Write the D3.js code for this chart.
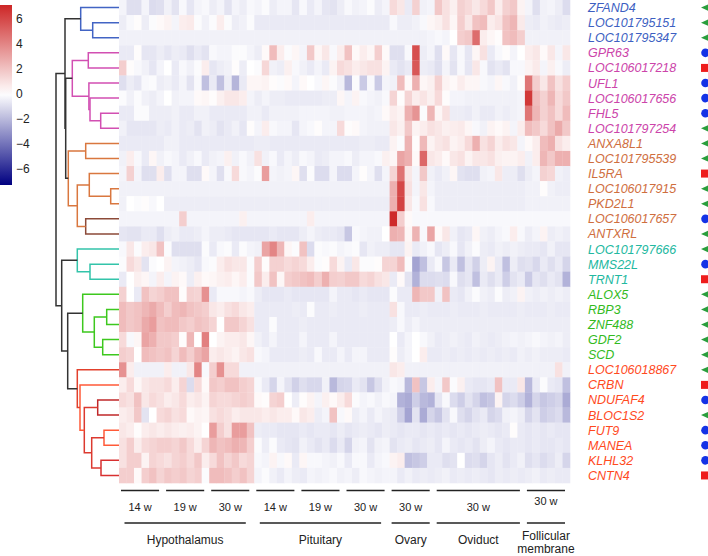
<!DOCTYPE html>
<html><head><meta charset="utf-8">
<script src="https://cdn.jsdelivr.net/npm/d3@7"></script>
<style>body{margin:0;background:#fff}svg{display:block}text{font-family:"Liberation Sans",Arial,sans-serif}</style>
</head><body><svg id="c" width="708" height="556"></svg>
<script>
// ---------------- data ----------------
const genes = ["ZFAND4","LOC101795151","LOC101795347","GPR63","LOC106017218","UFL1","LOC106017656","FHL5","LOC101797254","ANXA8L1","LOC101795539","IL5RA","LOC106017915","PKD2L1","LOC106017657","ANTXRL","LOC101797666","MMS22L","TRNT1","ALOX5","RBP3","ZNF488","GDF2","SCD","LOC106018867","CRBN","NDUFAF4","BLOC1S2","FUT9","MANEA","KLHL32","CNTN4"];
const geneCluster = ["blue","blue","blue","magenta","magenta","magenta","magenta","magenta","magenta","orange","orange","orange","orange","orange","orange","orange","teal","teal","teal","green","green","green","green","green","red","red","red","red","red","red","red","red"];
const geneMarker = ["tri","tri","tri","circle","square","circle","circle","circle","tri","tri","tri","square","tri","tri","circle","tri","tri","circle","square","tri","tri","tri","tri","tri","tri","square","circle","tri","circle","circle","circle","square"];
const groupLabels = ["14 w","19 w","30 w","14 w","19 w","30 w","30 w","30 w","30 w"];
const groupSizes = [6,6,6,6,6,6,6,12,6];
const tissues = ["Hypothalamus","Pituitary","Ovary","Oviduct","Follicular membrane"];
const tissueGroups = [3,3,1,1,1];
const legendTicks = [6,4,2,0,-2,-4,-6];
// heat values, one row per gene (60 samples)
const heat = [
[-0.3,-0.9,-0.9,-0.3,-1.0,-0.9,-0.4,-0.8,-0.2,-0.7,-0.3,-0.2,-0.5,-0.3,-0.8,-0.3,-0.5,-0.2,-0.3,-0.1,-0.5,-0.3,-0.3,-0.7,-0.2,-0.6,-0.3,-0.7,-0.8,-0.5,-0.2,-0.4,-0.3,-0.1,-0.5,-0.3,1.2,0.8,-0.6,1.5,-0.4,-0.3,1.8,1.0,0.5,1.5,1.2,0.8,1.2,1.8,0.6,1.5,1.8,0.4,-0.3,-0.9,-0.4,-0.3,-0.5,-1.0],
[-0.5,-0.2,0.1,-0.5,-0.1,0.2,0.4,-0.3,0.6,0.7,-0.1,-0.4,-0.1,0.6,-0.1,-0.5,-0.4,-0.1,-0.6,-0.6,-0.6,-0.6,-0.6,-0.6,-0.6,-0.6,-0.6,-0.6,-0.6,-0.6,-0.6,-0.6,-0.6,-0.6,-0.6,-0.6,-0.2,-0.5,-0.5,-0.4,-0.2,0.3,0.5,1.0,0.3,1.6,0.8,2.0,2.2,0.6,0.9,2.0,2.4,0.7,-0.5,-0.6,-0.4,-0.5,-0.6,-0.5],
[-0.4,-0.4,-0.4,-0.4,-0.4,-0.4,-0.4,-0.4,-0.4,-0.4,-0.4,-0.4,-0.4,-0.4,-0.4,-0.4,-0.4,-0.4,-0.4,-0.4,-0.4,-0.4,-0.4,-0.4,-0.4,-0.4,-0.4,-0.4,-0.4,-0.4,-0.4,-0.4,-0.4,-0.4,-0.4,-0.4,-0.4,-0.4,-0.4,-0.4,-0.4,-0.3,-0.2,-0.3,0.0,1.6,1.8,4.8,0.6,0.3,0.1,2.0,2.2,1.6,-0.4,-0.4,-0.4,-0.4,-0.4,-0.4],
[-0.6,-0.6,0.1,-0.7,-0.7,-0.5,-0.7,-0.5,-0.6,-0.9,-0.6,-0.8,-0.2,-0.3,-0.3,-0.1,-0.1,-0.3,-0.5,0.2,2.2,0.6,-0.1,0.3,-0.3,1.8,0.3,0.8,-0.2,0.6,2.0,0.2,0.6,0.3,1.6,0.2,-0.9,-0.9,-0.2,5.8,-0.5,-0.3,-0.9,0.2,-0.7,-0.2,-0.7,0.3,1.0,-0.6,-0.2,0.1,-0.3,0.0,0.6,0.8,0.2,0.8,-0.3,0.8],
[1.6,0.1,-0.2,-0.4,-0.7,-0.3,0.0,-0.6,-0.2,-0.4,-0.1,0.6,-0.7,-0.5,-0.4,0.1,-0.5,0.0,-0.1,1.3,-0.4,-0.5,0.5,-0.2,-0.4,-0.6,-0.3,-0.6,0.4,1.2,1.0,0.6,0.8,1.0,1.0,0.4,-0.6,-0.8,-0.6,5.5,-0.5,-0.6,-0.9,-0.3,-0.8,-0.2,-0.7,0.8,-0.2,-0.8,-0.6,-0.8,-0.2,-0.2,0.4,0.7,-0.3,0.5,-0.2,-0.5],
[-0.9,-0.5,-0.7,-0.2,-0.1,-0.5,-0.4,-0.6,-0.3,-0.8,-0.2,-1.8,-0.6,-1.8,-0.5,-2.1,-0.6,0.3,0.3,0.4,0.1,-0.1,0.2,-0.3,0.2,0.0,-0.2,0.3,-0.1,-0.4,-2.0,-0.1,-1.5,-0.2,-1.5,-0.3,-0.4,2.2,0.2,2.6,0.3,0.5,1.5,0.4,0.2,0.6,0.3,0.3,-0.2,-0.3,0.3,-0.2,-0.4,0.1,4.5,1.6,0.8,2.0,1.0,1.6],
[-0.1,-0.4,-0.1,-0.4,-0.5,-0.3,0.0,-0.4,-0.3,-0.3,0.2,0.3,0.1,0.5,0.8,0.8,0.6,-0.3,-0.5,-0.3,-0.5,-0.5,-0.6,-0.6,-0.6,-0.6,-0.6,-0.5,-0.5,0.3,-0.3,0.4,-0.2,-0.3,-0.4,-0.2,1.4,0.1,1.4,0.6,0.9,0.5,1.2,0.1,-0.3,-0.3,-0.4,-0.4,-0.4,-0.4,-0.4,-0.4,-0.4,-0.3,6.5,2.2,1.5,2.4,1.2,1.8],
[-0.6,-0.6,-0.1,-0.1,-0.5,-0.5,-0.5,-0.4,-0.6,-0.6,-0.4,-0.4,-0.6,-0.6,-0.6,-0.6,-0.6,-0.4,-0.4,-0.6,-0.4,-0.4,-0.4,-0.4,-0.3,-0.3,-0.3,-0.3,-0.4,-0.4,-0.3,-0.3,-0.3,-0.4,-0.3,0.2,0.6,0.4,2.6,3.5,-0.1,2.4,0.3,1.0,-0.5,-0.5,-0.6,-0.4,-0.6,-0.6,-0.4,-0.5,-0.4,-0.3,4.5,2.4,1.5,2.0,1.2,2.2],
[-0.4,-0.7,-0.7,-0.7,-0.7,-0.5,-0.6,-0.4,-0.6,-0.5,-0.8,-0.4,-0.5,-0.8,-0.6,-0.4,-0.7,0.1,-0.3,0.6,-0.2,-0.3,-0.3,-0.7,-0.3,-0.2,0.1,-0.3,-0.3,1.2,0.1,0.2,-0.3,-0.4,-0.4,-0.4,0.8,0.5,1.8,0.4,0.6,1.0,0.8,0.5,0.6,0.7,0.3,-0.2,-0.4,0.4,0.2,0.4,-0.3,0.6,2.2,1.8,1.2,2.0,2.8,1.8],
[-0.6,-0.6,-0.6,-0.6,-0.6,-0.6,-0.4,-0.4,-0.6,-0.6,-0.6,-0.6,-0.6,-0.6,-0.6,-0.6,-0.6,-0.6,-0.5,-0.5,-0.6,-0.6,-0.6,-0.6,-0.6,-0.6,-0.6,-0.6,-0.6,-0.6,-0.6,-0.6,-0.5,-0.5,-0.6,-0.6,0.4,-0.1,2.5,0.1,2.3,0.4,0.8,1.0,0.4,0.6,1.2,2.6,1.0,1.4,0.6,1.0,0.8,-0.3,0.2,0.6,2.2,2.6,1.0,0.6],
[-0.4,0.6,-0.2,-0.6,0.3,-0.4,-0.2,-0.3,-0.6,-0.4,-0.2,-0.6,-0.4,-0.3,0.5,-0.4,-0.2,-0.4,1.0,-0.4,-0.2,-0.6,-0.3,-0.5,-0.2,-0.3,-0.6,-0.5,-0.3,-0.3,-0.2,-0.5,-0.3,-0.3,-0.2,0.5,0.3,3.0,2.6,0.2,5.0,0.8,0.6,0.2,0.8,1.0,0.4,0.8,0.8,1.0,0.5,0.4,0.4,0.6,-0.4,0.6,2.4,1.8,2.6,2.6],
[-0.3,1.5,-0.3,-0.9,-0.9,0.6,-0.9,-0.3,-0.3,-0.9,-0.9,0.2,-0.3,-0.9,-0.2,1.2,-0.2,-0.3,-0.1,3.2,-0.3,-0.4,-0.3,0.3,-0.9,-0.1,-1.0,-1.0,-0.3,-1.0,-1.0,-0.3,0.1,-0.3,-0.9,-0.3,1.4,4.6,0.8,-0.3,1.8,-0.4,-0.6,-0.4,0.3,-0.8,-0.9,-0.9,-0.4,-0.3,0.8,-0.5,-0.5,-0.9,-0.5,-0.3,1.5,1.3,-0.4,-0.5],
[-0.4,-0.4,-0.4,-0.4,-0.4,-0.4,-0.4,-0.4,-0.4,-0.4,-0.4,-0.4,-0.4,-0.4,-0.4,-0.4,-0.4,-0.4,-0.4,-0.4,-0.4,-0.4,-0.4,-0.4,-0.4,-0.4,-0.4,-0.4,-0.4,-0.4,-0.4,-0.4,-0.4,-0.4,-0.4,-0.4,2.6,6.0,1.0,-0.3,0.8,-0.3,-0.5,-0.5,-0.5,-0.5,-0.5,-0.5,-0.5,-0.5,-0.5,-0.5,-0.5,-0.5,-0.4,-0.4,0.1,-0.4,-0.5,-0.5],
[-0.4,0.0,-0.1,0.1,-0.2,0.0,-0.5,-0.5,-0.5,-0.5,-0.5,-0.5,-0.5,-0.5,-0.5,-0.5,-0.5,-0.5,-0.5,-0.5,-0.5,-0.5,-0.5,-0.5,-0.5,-0.5,-0.5,-0.5,-0.5,-0.5,-0.5,-0.5,-0.5,-0.5,-0.5,-0.5,2.6,6.2,0.8,-0.2,1.0,-0.2,-0.5,-0.5,-0.5,-0.5,-0.5,-0.5,-0.5,-0.5,-0.5,-0.5,-0.5,-0.5,-0.4,-0.4,-0.4,-0.4,-0.4,-0.4],
[-0.3,-0.3,-0.3,-0.3,-0.3,-0.3,-0.3,-0.3,1.6,-0.3,-0.3,-0.3,-0.3,-0.3,-0.3,-0.3,0.5,-0.3,-0.3,-0.3,-0.3,-0.3,-0.3,-0.3,-0.3,0.6,-0.3,-0.3,-0.3,-0.3,-0.3,-0.3,-0.3,-0.3,-0.3,-0.3,7.0,1.6,0.2,-0.2,-0.2,-0.2,-0.2,-0.2,-0.2,-0.2,-0.2,-0.2,-0.2,-0.2,-0.2,-0.2,-0.2,-0.2,-0.2,-0.2,-0.2,-0.2,-0.2,-0.2],
[-0.7,-0.8,-0.8,-0.6,-0.6,-0.9,-0.5,-0.4,-0.6,-0.6,-0.5,-0.3,-0.5,-0.5,-0.6,-0.7,-0.7,-0.7,-0.7,-0.7,-0.6,-0.7,-0.7,-0.7,-0.5,-0.3,-0.5,-0.6,-0.6,-0.7,-1.6,-0.2,-0.3,-0.4,-0.4,0.0,2.6,2.4,0.3,2.5,-0.2,3.0,0.2,0.8,-0.4,-0.7,-0.6,0.3,-0.4,-0.5,-0.3,-0.2,0.6,-0.2,-0.5,-0.3,0.4,-0.5,-0.4,-0.5],
[-0.2,0.8,-0.1,0.6,0.8,2.0,-0.1,-0.9,-0.9,-0.9,-0.9,-0.1,-0.6,-0.2,-0.1,-0.6,-0.1,-0.3,-0.4,3.0,4.0,2.4,0.3,-0.1,2.0,-1.0,-0.1,-0.2,-0.1,-0.3,-0.2,-0.1,-0.7,-0.4,-0.5,-0.5,-0.7,-0.7,0.4,-0.6,-0.4,-0.2,-0.7,-0.5,-0.2,-0.7,-0.4,-0.1,-0.5,-0.6,-0.4,-0.5,-0.4,-0.5,-0.6,-0.6,-0.7,-0.4,-0.7,-0.7],
[-0.1,1.2,0.8,-0.8,-0.1,0.0,0.4,-0.3,-0.4,-0.5,-0.7,-0.2,-0.1,0.6,1.0,0.8,0.8,-0.1,1.6,0.1,1.5,1.5,1.2,1.4,1.2,0.6,-0.1,0.1,1.2,0.4,-0.6,0.8,-0.1,-0.1,0.1,1.4,1.4,2.2,-0.1,-2.6,-1.8,-0.6,-0.2,-1.6,-0.6,-1.8,-0.7,-1.3,-0.5,0.4,-0.6,-1.8,-0.5,-0.9,-0.8,-1.1,-0.6,-0.9,-0.6,-1.2],
[-0.6,0.0,0.5,0.3,-0.3,0.6,-0.3,0.4,0.2,-0.5,0.5,0.2,0.3,0.5,0.6,0.3,0.6,-0.1,1.8,0.6,2.0,0.3,1.6,1.8,2.0,2.2,1.6,2.6,1.6,1.5,1.8,1.8,1.2,1.4,1.0,0.8,-0.6,0.2,-0.8,-2.2,-1.0,-1.0,-0.9,-1.0,-0.2,-0.9,-0.7,-1.8,-0.6,-0.9,-0.6,-1.4,-0.8,-0.6,-1.5,-0.7,-0.9,-0.6,-0.8,-2.2],
[1.5,0.0,-0.6,2.0,1.4,1.6,2.0,2.0,0.1,1.5,1.4,3.6,-0.6,-0.2,-0.2,-0.2,-0.3,-0.2,-0.5,-0.7,-0.7,-0.7,-0.6,-0.7,-0.7,-0.7,-0.7,-0.7,-0.3,-0.6,-0.6,-0.7,-0.6,-0.7,-0.7,-0.7,-0.1,-0.6,-0.6,2.4,1.8,1.8,-0.4,2.0,-0.6,-0.7,-0.4,-0.1,-0.4,-0.5,-0.1,-0.5,-0.4,0.4,-0.4,-0.5,-0.4,-0.5,-0.4,-0.5],
[2.2,1.8,2.0,2.4,2.8,2.2,1.6,2.2,2.4,2.0,1.8,1.6,0.8,0.6,1.0,1.2,0.8,0.6,-0.6,-0.6,-0.6,-0.6,-0.6,-0.5,-0.6,-0.1,-0.6,-0.6,-0.5,-0.6,-0.6,-0.6,-0.5,-0.6,-0.6,-0.6,1.0,-0.2,-0.6,-0.6,-0.5,-0.6,-0.6,-0.6,-0.5,-0.6,-0.6,-0.6,-0.5,-0.6,-0.6,-0.6,-0.6,-0.5,-0.6,-0.6,-0.6,-0.5,-0.6,-0.6],
[2.2,1.8,2.0,2.8,3.2,2.0,2.2,2.2,1.8,1.6,2.0,1.8,1.4,0.0,1.8,1.8,1.4,1.0,-0.6,-0.6,-0.1,-0.6,-0.6,-0.6,-0.5,-0.6,-0.6,-0.6,-0.6,-0.6,-0.6,-0.6,-0.6,-0.6,-0.6,-0.6,-0.5,-0.2,-0.5,-0.3,-0.5,-0.5,-0.5,-0.5,-0.5,-0.5,-0.5,-0.5,-0.5,-0.5,-0.5,-0.5,-0.5,-0.5,-0.5,-0.5,-0.5,-0.5,-0.5,-0.5],
[1.2,-0.2,0.3,3.0,2.6,1.8,1.8,1.6,0.1,2.4,0.0,4.2,0.0,0.4,0.6,0.6,0.8,0.3,-0.4,-0.6,-0.3,-0.6,-0.6,-0.6,-0.3,-0.6,-0.6,-0.6,-0.3,-0.6,-0.6,-0.6,-0.6,-0.6,-0.6,-0.6,0.0,-0.6,-0.3,0.0,-0.2,-0.4,-0.6,-0.5,-0.4,-0.5,-0.6,-0.4,-0.5,-0.6,-0.5,-0.4,-0.3,-0.4,-0.3,-0.2,-0.3,-0.4,-0.3,-0.5],
[1.6,1.4,0.0,2.2,2.0,1.8,2.0,1.4,2.2,1.6,2.4,3.0,0.6,0.8,0.6,0.4,0.8,1.0,-0.2,-0.3,-0.6,-0.6,-0.6,-0.6,-0.5,-0.6,-0.2,-0.6,-0.6,-0.3,-0.6,-0.3,-0.3,-0.6,-0.6,-0.6,0.1,-0.5,-0.3,0.0,0.6,-0.6,-0.6,-0.5,-0.6,-0.5,-0.6,-0.5,-0.6,-0.5,-0.6,-0.5,-0.6,-0.4,-0.5,-0.4,-0.5,-0.5,-0.5,-0.6],
[3.6,0.6,-0.4,-0.4,-0.4,-0.4,0.6,-0.4,-0.4,0.8,4.0,-0.2,1.6,3.6,1.2,1.2,-0.4,-0.4,-0.4,-0.4,-0.4,-0.4,-0.4,-0.4,-0.4,-0.4,-0.4,-0.4,-0.4,-0.4,-0.4,-0.4,-0.4,-0.4,-0.4,-0.4,0.8,0.6,-0.4,-0.4,-0.4,-0.4,-0.4,-0.4,-0.4,-0.4,-0.4,-0.4,-0.4,-0.4,-0.4,-0.4,-0.4,-0.4,-0.4,-0.4,-0.4,-0.4,1.0,-0.4],
[0.6,1.2,0.3,0.8,1.0,1.0,1.2,0.6,1.4,-1.0,1.2,0.2,1.8,1.6,2.0,2.0,1.6,1.4,-0.2,-0.6,-1.2,-0.3,-0.8,-1.3,-0.9,-1.1,-1.1,-0.4,-2.0,-1.2,-1.1,-0.6,-0.8,-1.6,-0.9,-0.4,-0.2,-0.3,-2.0,2.0,-1.6,0.6,-0.3,1.8,-0.1,0.5,-0.6,-0.7,-0.7,-0.6,2.0,-0.6,-0.6,0.8,-2.0,-0.6,-0.1,-0.6,-0.7,-1.8],
[1.2,1.0,2.0,0.8,1.2,1.0,0.6,0.8,1.2,0.6,0.8,0.4,1.4,1.2,1.2,1.4,1.6,1.4,0.2,0.1,1.4,1.6,0.0,-0.5,0.1,0.4,-0.3,0.5,0.2,0.6,1.2,-0.1,-0.3,-0.2,-0.4,-0.2,-0.3,-2.2,-2.4,-1.4,-2.0,-2.2,-0.7,-0.2,-1.0,-1.4,-0.8,-1.2,-1.8,-1.6,0.4,-1.2,-1.0,-1.4,-2.2,-1.2,-1.6,-1.4,-1.2,-2.4],
[0.6,0.8,1.8,-0.8,0.0,1.2,1.4,1.0,1.2,0.2,0.4,0.3,1.0,1.2,1.0,0.6,0.8,0.8,0.8,0.6,0.8,0.6,0.6,0.2,0.8,0.6,-0.5,-0.3,2.0,-0.2,0.2,-0.5,-0.3,-0.6,-0.3,-0.5,-0.6,-1.4,-2.6,-0.8,-2.4,-1.2,-1.6,-0.8,-0.2,-0.9,-1.2,-0.8,-0.6,-1.2,-1.0,-0.4,-0.3,-0.5,-1.2,-0.8,-1.4,-1.2,-1.0,-2.0],
[0.8,0.6,0.1,0.6,0.8,0.6,0.8,0.6,0.5,0.6,0.4,0.0,3.2,1.6,1.0,3.2,3.2,2.0,-0.5,-0.6,-0.6,-0.7,-0.7,-0.7,-0.6,-0.7,-0.6,-0.6,-0.7,-0.5,-0.7,-0.6,-0.5,-0.6,-0.7,-0.5,-0.6,-0.7,-0.6,-0.6,-0.7,-0.6,-0.7,-0.6,-0.7,-0.6,-0.7,-0.6,-0.5,-0.6,-0.7,-0.6,0.1,-0.6,-0.7,-0.6,-0.7,-0.6,-0.7,-0.7],
[1.0,1.6,0.6,1.2,1.4,1.6,1.6,1.4,1.8,1.2,0.6,1.4,2.4,2.0,2.2,2.6,2.4,1.6,-0.1,-0.5,-0.1,-0.6,-0.7,-0.8,-0.4,-0.6,-0.8,-0.6,-1.0,-0.6,-1.2,-0.4,-0.3,-0.8,-0.4,-0.3,-0.8,-0.6,-0.5,-0.7,-0.6,-0.5,-0.7,-0.3,-0.6,-0.7,-0.6,-0.8,-0.5,-0.3,-0.6,-0.7,-0.6,-0.6,-0.7,-0.6,-0.7,-0.7,-0.6,-0.7],
[1.0,1.6,1.6,0.4,1.4,1.2,1.0,1.4,1.6,1.2,1.8,0.6,1.2,2.0,1.4,1.8,1.2,1.4,-0.2,-0.3,0.4,-0.2,0.2,-0.6,0.3,-0.2,-0.2,-0.3,-0.4,-0.2,-0.6,-0.2,-0.2,-0.6,-0.3,-0.2,0.4,0.6,-1.8,-1.6,-1.4,-0.6,-0.6,-0.9,-0.8,0.0,-1.0,-0.9,-1.2,-0.7,-0.5,-0.8,-0.6,-0.4,-0.9,-0.7,-1.0,-0.8,-0.5,-1.2],
[1.6,1.6,0.2,1.6,2.0,1.4,1.8,1.6,1.8,1.4,1.6,-0.1,2.2,2.2,2.0,1.6,2.0,1.4,-0.3,-0.1,-0.4,-0.6,-0.3,-0.5,-0.6,-0.3,-0.4,-0.3,-0.2,-0.4,-0.3,-0.5,-0.2,-0.3,-0.4,-0.3,-0.3,-0.6,-0.4,-0.6,-0.5,-0.6,-0.5,-0.4,-0.6,-0.5,-0.6,-0.5,-0.6,-0.7,-0.5,-0.6,-0.5,-0.6,-0.5,-0.4,-0.6,-0.5,-0.6,-0.6]
];
// dendrogram merges: [id, childA, childB, height, colour key]
const merges = [
["b1","LOC101795151","LOC101795347",26.3,"blue"],
["b2","ZFAND4","b1",38.3,"blue"],
["m1","GPR63","LOC106017218",30.7,"magenta"],
["m2","FHL5","LOC101797254",18.3,"magenta"],
["m3","LOC106017656","m2",29.0,"magenta"],
["m4","UFL1","m3",30.1,"magenta"],
["m5","m1","m4",46.7,"magenta"],
["o1","ANXA8L1","LOC101795539",33.3,"orange"],
["o2","LOC106017915","PKD2L1",8.3,"orange"],
["o3","IL5RA","o2",29.7,"orange"],
["o4","LOC106017657","ANTXRL",33.3,"brown"],
["o5","o3","o4",41.7,"orange"],
["o6","o1","o5",50.7,"orange"],
["A","m5","o6",53.3,"black"],
["B","b2","A",54.0,"black"],
["t1","MMS22L","TRNT1",29.0,"teal"],
["t2","LOC101797666","t1",41.7,"teal"],
["g1","RBP3","ZNF488",12.3,"green"],
["g2","GDF2","SCD",16.3,"green"],
["g3","g1","g2",24.7,"green"],
["g4","ALOX5","g3",36.3,"green"],
["r1","NDUFAF4","BLOC1S2",21.3,"darkred"],
["r2","FUT9","MANEA",15.0,"orangered"],
["r3","KLHL32","CNTN4",18.0,"red2"],
["r4","r2","r3",27.3,"red3"],
["r5","r1","r4",34.7,"red3"],
["r6","CRBN","r5",39.0,"orangered"],
["r7","LOC106018867","r6",41.7,"red"],
["C","g4","r7",51.3,"black"],
["D","t2","C",57.3,"black"],
["root","B","D",63.0,"black"]
];
const branchColor = {blue:"#4264c4",magenta:"#d24fb2",orange:"#d9773f",brown:"#8c4a38",teal:"#33c4aa",green:"#3dc81e",red:"#e2402c",orangered:"#ff5a38",darkred:"#c0282a",red2:"#d83030",red3:"#dc3a30",black:"#333333"};
const labelColor = {blue:"#3d5fc2",magenta:"#cc44aa",orange:"#cf6e3e",teal:"#22b8a0",green:"#33bb1e",red:"#ff4a1e"};

// ---------------- drawing ----------------
const svg = d3.select("#c");
const nCol = d3.sum(groupSizes);
const x = d3.scaleBand().domain(d3.range(nCol)).range([119, 570]);
const y = d3.scaleBand().domain(genes).range([0, 483]);
const color = d3.scaleLinear().domain([-7.28, 0, 7.12]).range(["#000080", "#ffffff", "#cd2626"]).interpolate(d3.interpolateRgb);

// heatmap
const cells = [];
heat.forEach((row, i) => row.forEach((v, j) => cells.push({g: genes[i], j, v})));
svg.append("g").selectAll("rect").data(cells).join("rect")
  .attr("x", d => x(d.j)).attr("y", d => y(d.g))
  .attr("width", x.bandwidth() + 0.3).attr("height", y.bandwidth() + 0.3)
  .attr("fill", d => color(d.v));

// dendrogram
const hx = d3.scaleLinear().domain([0, 63]).range([119, 56]);
const pos = {};
genes.forEach(g => pos[g] = {x: hx(0), y: y(g) + y.bandwidth() / 2});
const dg = svg.append("g").attr("fill", "none").attr("stroke-width", 1.5);
merges.forEach(([id, a, b, h, c]) => {
  const nx = hx(h), pa = pos[a], pb = pos[b];
  dg.append("path").attr("stroke", branchColor[c])
    .attr("d", `M${pa.x},${pa.y}H${nx}V${pb.y}H${pb.x}`);
  pos[id] = {x: nx, y: (pa.y + pb.y) / 2};
});

// gene labels and markers
const lg = svg.append("g");
genes.forEach((g, i) => {
  const cy = y(g) + y.bandwidth() / 2;
  lg.append("text").attr("x", 588).attr("y", cy).attr("dy", "0.36em")
    .attr("font-size", 12.5).attr("font-style", "italic")
    .attr("fill", labelColor[geneCluster[i]]).text(g);
  const m = geneMarker[i];
  if (m === "tri") lg.append("path").attr("d", `M701,${cy}L710,${cy-4}L710,${cy+4}Z`).attr("fill", "#2a9e3c");
  else if (m === "circle") lg.append("circle").attr("cx", 705.5).attr("cy", cy).attr("r", 4.3).attr("fill", "#1432e6");
  else lg.append("rect").attr("x", 701).attr("y", cy - 4).attr("width", 9).attr("height", 8).attr("fill", "#ee1c1c");
});

// colour legend
const defs = svg.append("defs");
const ly = d3.scaleLinear().domain([-7.28, 7.12]).range([185, 5]);
const grad = defs.append("linearGradient").attr("id", "lgd").attr("x1", 0).attr("x2", 0).attr("y1", 1).attr("y2", 0);
d3.range(0, 1.0001, 0.05).forEach(t => {
  grad.append("stop").attr("offset", t).attr("stop-color", color(-7.28 + t * 14.4));
});
svg.append("rect").attr("x", 0).attr("y", 5).attr("width", 12).attr("height", 180).attr("fill", "url(#lgd)");
svg.append("g").selectAll("text").data(legendTicks).join("text")
  .attr("x", 16).attr("y", d => ly(d)).attr("dy", "0.36em").attr("font-size", 12).attr("fill", "#222")
  .text(d => d < 0 ? "\u2212" + Math.abs(d) : d);

// bottom annotations
const bg = svg.append("g");
let start = 0;
const groupSpans = groupSizes.map(n => { const s = start; start += n; return [s, s + n - 1]; });
const spanPx = groupSpans.map(([a, b]) => [x(a) + 2, x(b) + x.bandwidth() - 5]);
spanPx.forEach(([a, b], k) => {
  bg.append("line").attr("x1", a).attr("x2", b).attr("y1", 490.5).attr("y2", 490.5).attr("stroke", "#222").attr("stroke-width", 1.3);
  bg.append("text").attr("x", (a + b) / 2).attr("y", k === 8 ? 501 : 507).attr("dy", "0.36em")
    .attr("text-anchor", "middle").attr("font-size", 11).attr("fill", "#222").text(groupLabels[k]);
});
let gi = 0;
tissues.forEach((t, k) => {
  const n = tissueGroups[k];
  const first = spanPx[gi], last = spanPx[gi + n - 1];
  gi += n;
  const inset = n > 1 ? 3.5 : 0;
  const a = first[0] + inset, b = last[1] - inset;
  bg.append("line").attr("x1", a).attr("x2", b).attr("y1", 523).attr("y2", 523).attr("stroke", "#222").attr("stroke-width", 1.3);
  const words = t === "Follicular membrane" ? ["Follicular", "membrane"] : [t];
  words.forEach((w, wi) => bg.append("text").attr("x", (a + b) / 2).attr("y", (words.length > 1 ? 536 : 540) + wi * 12.5)
    .attr("dy", "0.36em").attr("text-anchor", "middle").attr("font-size", 12).attr("fill", "#222").text(w));
});
</script></body></html>
